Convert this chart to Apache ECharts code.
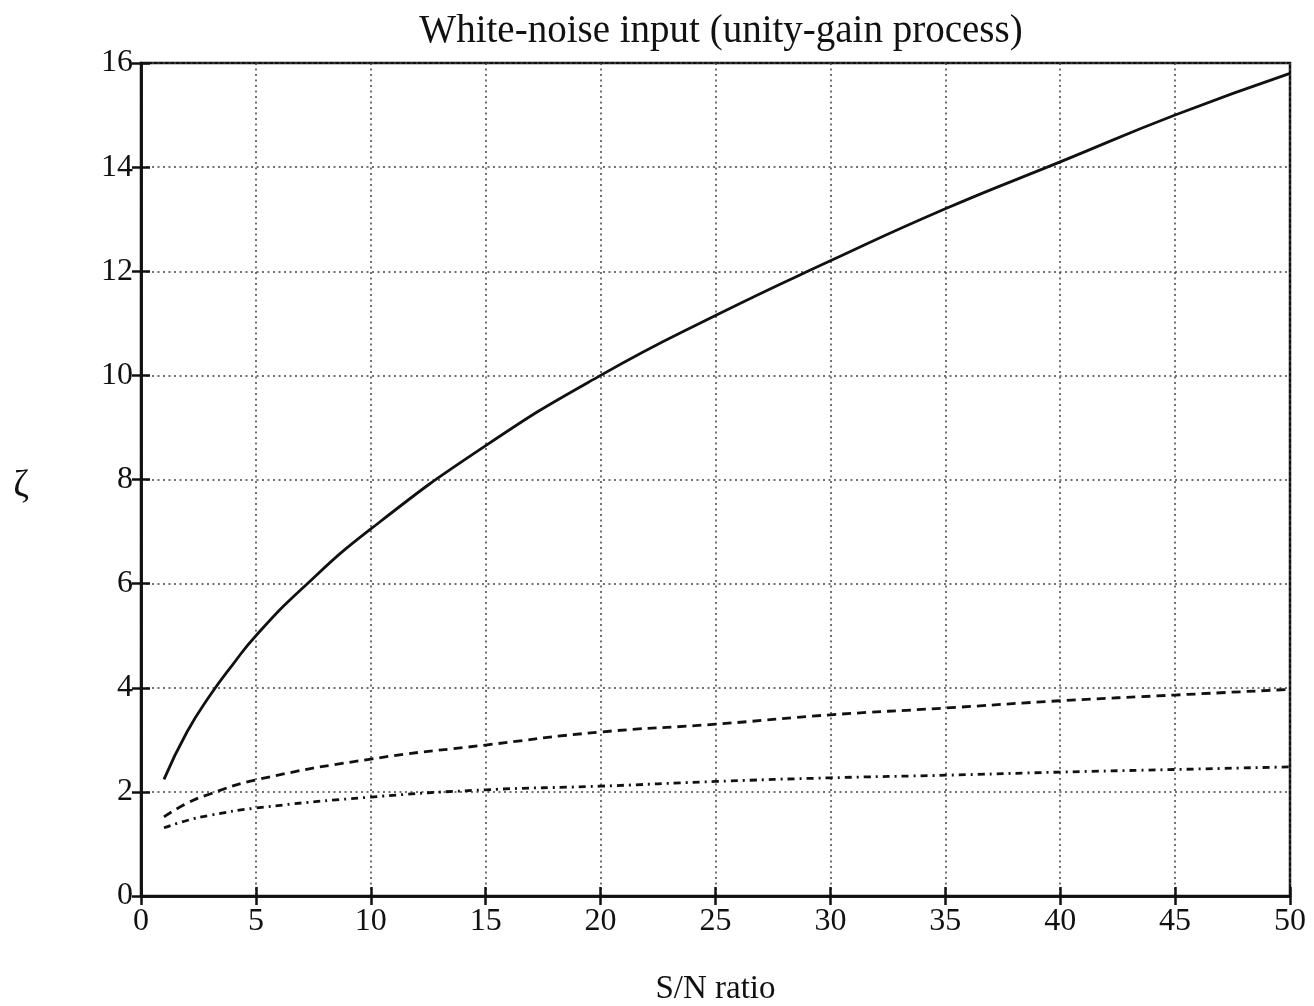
<!DOCTYPE html>
<html>
<head>
<meta charset="utf-8">
<script src="https://cdn.jsdelivr.net/npm/echarts@6/dist/echarts.min.js"></script>
<style>html,body{margin:0;padding:0;background:#fff;}#c{width:1314px;height:1006px;}</style>
</head>
<body>
<div id="c"></div>
<script>
const titleText = 'White-noise input (unity-gain process)';
const xName = 'S/N ratio';
const yName = 'ζ';

const solidX = [1, 2, 3, 4, 5, 7, 10, 15, 20, 25, 30, 35, 40, 45, 50];
const solidY = [2.24, 3.15, 3.85, 4.45, 5.0, 5.9, 7.05, 8.65, 10.0, 11.15, 12.2, 13.2, 14.1, 15.0, 15.8];

const dashX = [1, 2, 3, 5, 10, 15, 20, 25, 30, 35, 40, 45, 50];
const dashY = [1.52, 1.78, 1.96, 2.23, 2.63, 2.9, 3.15, 3.3, 3.48, 3.61, 3.75, 3.86, 3.97];

const dotDashX = [1, 2, 3, 5, 10, 15, 20, 25, 30, 35, 40, 45, 50];
const dotDashY = [1.31, 1.45, 1.55, 1.69, 1.9, 2.04, 2.11, 2.2, 2.27, 2.32, 2.38, 2.43, 2.48];

const zip = (a, b) => a.map((v, i) => [v, b[i]]);
const font = '"Liberation Serif", "DejaVu Serif", serif';

const chart = echarts.init(document.getElementById('c'));
const gridLine = { show: true, lineStyle: { color: '#444', type: [2, 3.5], width: 1.5 } };
const tick = { show: true, inside: true, length: 9, lineStyle: { color: '#111', width: 2.5 } };
const axLine = { show: true, lineStyle: { color: '#111', width: 2.5 } };
chart.setOption({
  backgroundColor: '#fff',
  animation: false,
  title: {
    text: titleText, left: 716, textAlign: 'center', top: 7,
    textStyle: { fontFamily: font, fontSize: 39, fontWeight: 'normal', color: '#111' }
  },
  grid: { left: 141, right: 24, top: 63, bottom: 110, outerBoundsMode: 'none', containLabel: false, show: true, borderColor: '#111', borderWidth: 2.5, backgroundColor: 'transparent' },
  xAxis: [{
    type: 'value', min: 0, max: 50, interval: 5,
    name: xName, nameLocation: 'middle', nameGap: 77,
    nameTextStyle: { fontFamily: font, fontSize: 33, color: '#111' },
    axisLine: axLine, axisTick: tick,
    axisLabel: { fontFamily: font, fontSize: 32, color: '#111', margin: 10 },
    splitLine: gridLine
  }, {
    type: 'value', min: 0, max: 50, interval: 5, position: 'top',
    axisLine: axLine, axisTick: tick,
    axisLabel: { show: false }, splitLine: { show: false }
  }],
  yAxis: [{
    type: 'value', min: 0, max: 16, interval: 2,
    name: yName, nameLocation: 'middle', nameGap: 112, nameRotate: 0,
    nameTextStyle: { fontFamily: font, fontSize: 38, color: '#111', verticalAlign: 'top', padding: [-12, 0, 0, 0] },
    axisLine: axLine, axisTick: tick,
    axisLabel: { fontFamily: font, fontSize: 32, color: '#111', margin: 8 },
    splitLine: gridLine
  }, {
    type: 'value', min: 0, max: 16, interval: 2, position: 'right',
    axisLine: axLine, axisTick: tick,
    axisLabel: { show: false }, splitLine: { show: false }
  }],
  series: [{
    type: 'line', data: zip(solidX, solidY), smooth: true, showSymbol: false,
    lineStyle: { color: '#111', width: 2.8, type: 'solid' }
  }, {
    type: 'line', data: zip(dashX, dashY), smooth: true, showSymbol: false,
    lineStyle: { color: '#111', width: 2.8, type: [9, 6] }
  }, {
    type: 'line', data: zip(dotDashX, dotDashY), smooth: true, showSymbol: false,
    lineStyle: { color: '#111', width: 2.8, type: [7, 5, 2, 5] }
  }, {
    type: 'line', data: [], xAxisIndex: 1, yAxisIndex: 1, showSymbol: false
  }]
});
</script>
</body>
</html>
